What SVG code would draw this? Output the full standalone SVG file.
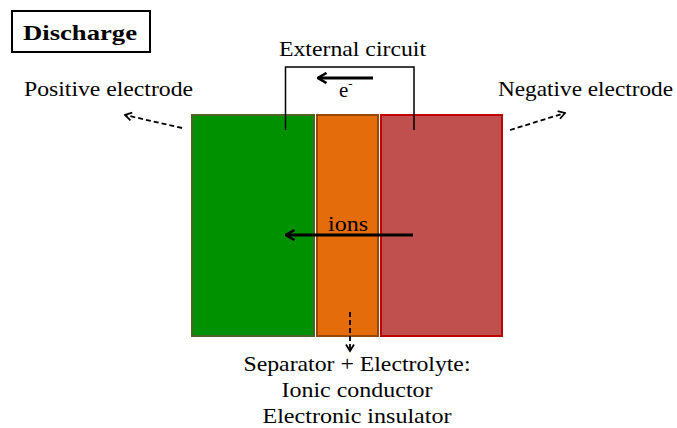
<svg xmlns="http://www.w3.org/2000/svg" width="677" height="428" viewBox="0 0 677 428">
<defs>
<style>
text{font-family:"Liberation Serif","Times New Roman",serif;font-size:21px;fill:#000}
.solid{fill:none;stroke:#000;stroke-width:2.8}
.wire{fill:none;stroke:#000;stroke-width:1.5}
.dash{fill:none;stroke:#000;stroke-width:1.8;stroke-dasharray:5,3}
</style>
<marker id="head" viewBox="0 0 12 12" refX="10.5" refY="6" markerWidth="12" markerHeight="12" orient="auto" markerUnits="userSpaceOnUse">
<path d="M2,1 L10.5,6 L2,11" fill="none" stroke="#000" stroke-width="2.6"/>
</marker>
<marker id="dhead" viewBox="0 0 10 10" refX="8.5" refY="5" markerWidth="10" markerHeight="10" orient="auto" markerUnits="userSpaceOnUse">
<path d="M2,1 L8.5,5 L2,9" fill="none" stroke="#000" stroke-width="1.8"/>
</marker>
</defs>
<rect width="677" height="428" fill="#fff"/>
<g id="title">
<rect x="12" y="11" width="138" height="41" fill="#fff" stroke="#000" stroke-width="2"/>
<text x="80" y="40" text-anchor="middle" font-weight="bold" font-size="22" textLength="114" lengthAdjust="spacingAndGlyphs">Discharge</text>
</g>
<g id="positive">
<rect x="192" y="115" width="122" height="221" fill="#009100" stroke="#4F6228" stroke-width="2"/>
</g>
<g id="separator">
<rect x="317" y="115" width="61" height="221" fill="#E46C0A" stroke="#984807" stroke-width="2"/>
</g>
<g id="negative">
<rect x="381" y="115" width="121" height="221" fill="#C0504D" stroke="#C00000" stroke-width="2"/>
</g>
<g id="labels">
<text x="24" y="96" textLength="169" lengthAdjust="spacingAndGlyphs">Positive electrode</text>
<text x="498" y="96" textLength="175" lengthAdjust="spacingAndGlyphs">Negative electrode</text>
<text x="279" y="56" textLength="147" lengthAdjust="spacingAndGlyphs">External circuit</text>
<text x="339" y="97">e<tspan font-size="13" dy="-9">-</tspan></text>
<text x="328" y="231" textLength="40" lengthAdjust="spacingAndGlyphs">ions</text>
<text x="357" y="371" text-anchor="middle" textLength="227" lengthAdjust="spacingAndGlyphs">Separator + Electrolyte:</text>
<text x="357" y="397" text-anchor="middle" textLength="151" lengthAdjust="spacingAndGlyphs">Ionic conductor</text>
<text x="357" y="423" text-anchor="middle" textLength="189" lengthAdjust="spacingAndGlyphs">Electronic insulator</text>
</g>
<g id="connectors">
<path class="wire" d="M285.5,130 V67 H414 V130"/>
<line class="solid" x1="373" y1="78" x2="318" y2="78" marker-end="url(#head)"/>
<line class="solid" x1="413" y1="235" x2="286" y2="235" marker-end="url(#head)"/>
<line class="dash" x1="182" y1="128" x2="125" y2="115" marker-end="url(#dhead)"/>
<line class="dash" x1="510" y1="130" x2="565" y2="113" marker-end="url(#dhead)"/>
<line class="dash" x1="350" y1="312" x2="350" y2="351" marker-end="url(#dhead)"/>
</g>
</svg>
